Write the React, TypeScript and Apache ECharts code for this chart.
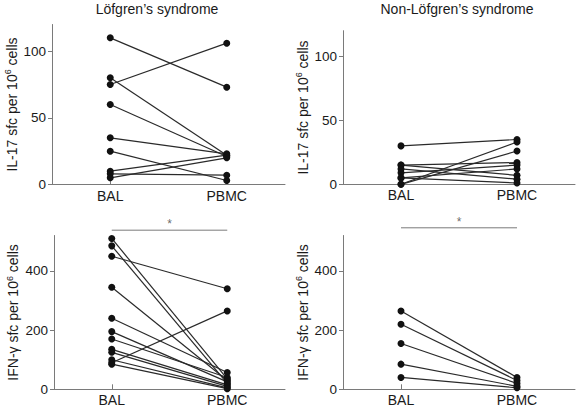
import React, { useEffect, useRef } from 'react';
import * as echarts from 'echarts';

// Category labels and their positions on the x value axis
const groupLabels = ['BAL', 'PBMC'];
const groupPos = [1, 3];

// Panel titles
const panelTitles = ['Löfgren’s syndrome', 'Non-Löfgren’s syndrome'];

// IL-17, Löfgren's (paired BAL -> PBMC)
const lofIl17Bal = [110, 80, 75, 60, 35, 25, 10, 8, 5];
const lofIl17Pbmc = [73, 22, 106, 21, 23, 3, 22, 7, 20];

// IL-17, non-Löfgren's
const nonIl17Bal = [30, 15, 15, 12, 9, 5, 0, 0, 5];
const nonIl17Pbmc = [35, 17, 7, 4, 15, 12, 33, 26, 1];

// IFN-γ, Löfgren's
const lofIfnBal = [510, 485, 450, 345, 240, 195, 170, 135, 125, 100, 90, 85];
const lofIfnPbmc = [35, 20, 340, 30, 57, 25, 40, 15, 10, 5, 265, 2];

// IFN-γ, non-Löfgren's
const nonIfnBal = [265, 220, 155, 85, 40];
const nonIfnPbmc = [40, 30, 20, 10, 5];

// y-axis tick values
const il17Ticks = [0, 50, 100];
const ifnTicks = [0, 200, 400];
const il17Max = 120;
const ifnMax = 520;

// significance bars (value level above plot) for the IFN-γ panels
const sigLevels = [538, 546];

const FONT = '"Liberation Sans", Arial, Helvetica, sans-serif';
const AXIS_COLOR = '#7a7a7a';
const TEXT_COLOR = '#1a1a1a';

export default function App() {
  const ref = useRef<HTMLDivElement>(null);

  useEffect(() => {
    if (!ref.current) return;
    const chart = echarts.init(ref.current, undefined, { renderer: 'svg' });

    const grids = [
      { left: 52, top: 24.5, width: 233, height: 160 },
      { left: 343, top: 30.7, width: 232, height: 153.6 },
      { left: 54, top: 235.5, width: 231, height: 153.8 },
      { left: 343, top: 235.5, width: 232, height: 153.8 },
    ];

    const xAxes = grids.map((_, i) => ({
      type: 'value',
      gridIndex: i,
      min: 0,
      max: 4,
      interval: 1,
      splitLine: { show: false },
      axisLine: { show: true, lineStyle: { color: AXIS_COLOR, width: 1 } },
      axisTick: {
        show: true,
        inside: true,
        length: 5,
        customValues: groupPos,
        lineStyle: { color: AXIS_COLOR },
      },
      axisLabel: {
        customValues: groupPos,
        formatter: (v: number) => groupLabels[groupPos.indexOf(v)] ?? '',
        color: TEXT_COLOR,
        fontSize: 14,
        fontFamily: FONT,
        margin: 4,
      },
    }));

    const yNames = [
      'IL-17 sfc per 10{sup|6} cells',
      'IL-17 sfc per 10{sup|6} cells',
      'IFN-γ sfc per 10{sup|6} cells',
      'IFN-γ sfc per 10{sup|6} cells',
    ];
    const yMax = [il17Max, il17Max, ifnMax, ifnMax];
    const yTicks = [il17Ticks, il17Ticks, ifnTicks, ifnTicks];
    const yGap = [31, 30, 33, 32];

    const yAxes = grids.map((_, i) => ({
      type: 'value',
      gridIndex: i,
      min: 0,
      max: yMax[i],
      splitLine: { show: false },
      axisLine: { show: true, lineStyle: { color: AXIS_COLOR, width: 1 } },
      axisTick: {
        show: true,
        length: 4,
        customValues: yTicks[i],
        lineStyle: { color: AXIS_COLOR },
      },
      axisLabel: {
        customValues: yTicks[i],
        color: TEXT_COLOR,
        fontSize: 13.5,
        fontFamily: FONT,
        margin: 6,
      },
      name: yNames[i],
      nameLocation: 'middle',
      nameRotate: 90,
      nameGap: yGap[i],
      nameTextStyle: {
        color: TEXT_COLOR,
        fontSize: 14,
        fontFamily: FONT,
        lineHeight: 16,
        rich: {
          sup: {
            fontSize: 9,
            fontFamily: FONT,
            color: TEXT_COLOR,
            verticalAlign: 'top',
            lineHeight: 16,
            padding: [0, 0, 6, 0],
          },
        },
      },
    }));

    const panels = [
      { bal: lofIl17Bal, pbmc: lofIl17Pbmc },
      { bal: nonIl17Bal, pbmc: nonIl17Pbmc },
      { bal: lofIfnBal, pbmc: lofIfnPbmc },
      { bal: nonIfnBal, pbmc: nonIfnPbmc },
    ];

    const series: any[] = [];
    panels.forEach((p, i) => {
      p.bal.forEach((b, k) => {
        series.push({
          type: 'line',
          xAxisIndex: i,
          yAxisIndex: i,
          data: [
            [groupPos[0], b],
            [groupPos[1], p.pbmc[k]],
          ],
          symbol: 'circle',
          symbolSize: 7,
          itemStyle: { color: '#111' },
          lineStyle: { color: '#2a2a2a', width: 1.2 },
          silent: true,
        });
      });
    });

    // significance bars with asterisks on the IFN-γ panels
    sigLevels.forEach((lvl, j) => {
      const idx = j + 2;
      series.push({
        type: 'line',
        xAxisIndex: idx,
        yAxisIndex: idx,
        data: [
          [groupPos[0], lvl],
          [groupPos[1], lvl],
        ],
        clip: false,
        symbol: 'none',
        lineStyle: { color: AXIS_COLOR, width: 1 },
        silent: true,
      });
      series.push({
        type: 'scatter',
        xAxisIndex: idx,
        yAxisIndex: idx,
        clip: false,
        data: [[(groupPos[0] + groupPos[1]) / 2, lvl]],
        symbolSize: 0.1,
        itemStyle: { color: 'transparent' },
        label: {
          show: true,
          position: 'top',
          distance: 0,
          formatter: '*',
          fontSize: 12,
          fontFamily: FONT,
          color: '#444',
        },
        silent: true,
      });
    });

    chart.setOption({
      animation: false,
      backgroundColor: '#ffffff',
      grid: grids,
      xAxis: xAxes,
      yAxis: yAxes,
      series,
      graphic: [
        {
          type: 'text',
          x: 157,
          y: 9,
          style: {
            text: panelTitles[0],
            fontSize: 14,
            fontFamily: FONT,
            fill: TEXT_COLOR,
            align: 'center',
            verticalAlign: 'middle',
          },
        },
        {
          type: 'text',
          x: 457,
          y: 9,
          style: {
            text: panelTitles[1],
            fontSize: 14,
            fontFamily: FONT,
            fill: TEXT_COLOR,
            align: 'center',
            verticalAlign: 'middle',
          },
        },
      ],
    });

    return () => chart.dispose();
  }, []);

  return (
    <div
      ref={ref}
      style={{ position: 'fixed', left: 0, top: 0, width: 576, height: 411, background: '#fff' }}
    />
  );
}
